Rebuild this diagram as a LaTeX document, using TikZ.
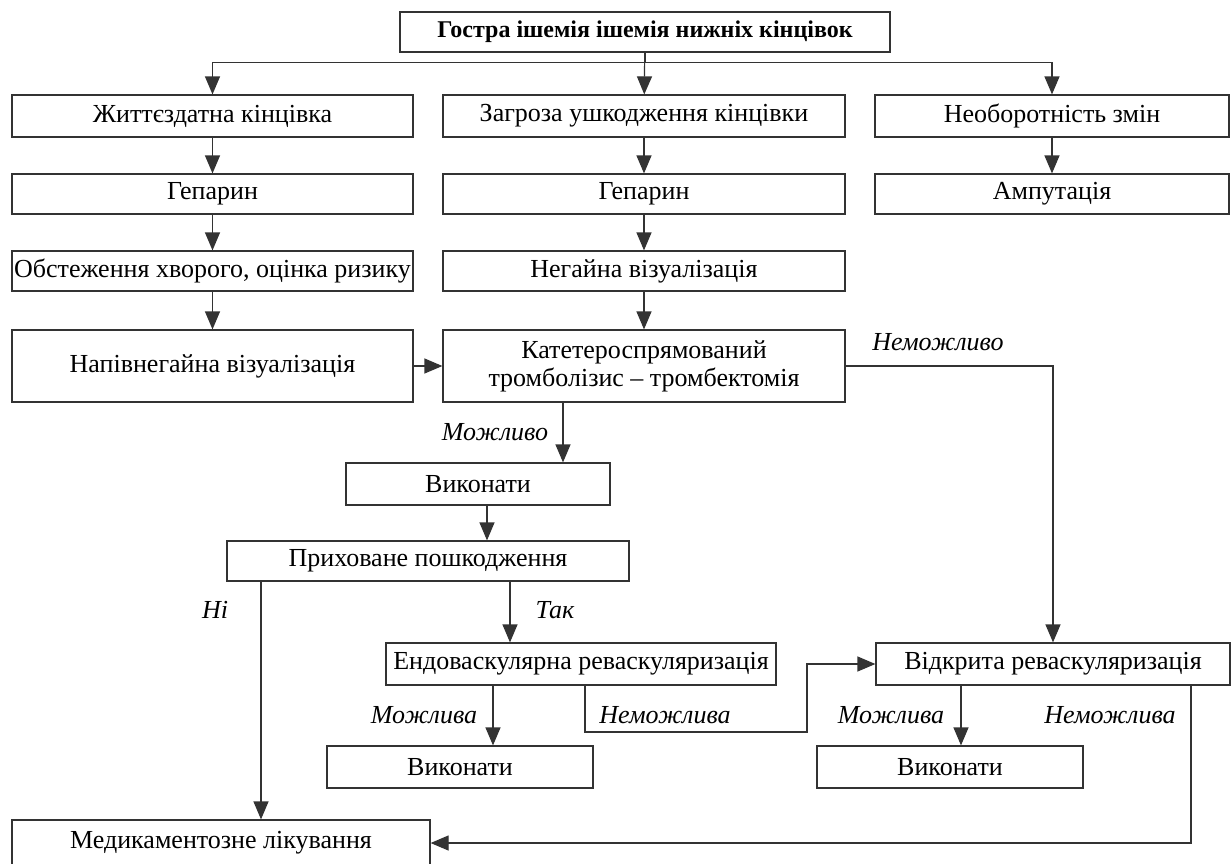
\documentclass[tikz,border=0pt]{standalone}
\usepackage{fontspec}
\setmainfont{Liberation Serif}
\usetikzlibrary{arrows.meta}
\tikzset{
  box/.style={draw=black!80,line width=1.2pt,minimum height=40pt,inner sep=0pt,align=center,font=\fontsize{26}{28}\selectfont},
  lnk/.style={draw=black!80,line width=1.2pt},
  arr/.style={lnk,-{Triangle[length=18pt,width=15pt]}},
  lbl/.style={font=\fontsize{26}{28}\selectfont\itshape}
}
\begin{document}
\begin{tikzpicture}[x=1pt,y=-1pt]
\useasboundingbox (0,0) rectangle (1232,863);
% boxes
\node[box,minimum width=490pt,font=\fontsize{24}{28}\selectfont\bfseries] (top) at (645,32) {Гостра ішемія ішемія нижніх кінцівок};
\node[box,minimum width=401pt,minimum height=42pt] (zhyt) at (212.5,116) {Життєздатна кінцівка};
\node[box,minimum width=402pt,minimum height=42pt] (zagr) at (644,116) {Загроза ушкодження кінцівки};
\node[box,minimum width=354pt,minimum height=42pt] (neob) at (1052,116) {Необоротність змін};
\node[box,minimum width=401pt] (hepA) at (212.5,194) {Гепарин};
\node[box,minimum width=402pt] (hepB) at (644,194) {Гепарин};
\node[box,minimum width=354pt] (amp) at (1052,194) {Ампутація};
\node[box,minimum width=401pt] (obst) at (212.5,271) {Обстеження хворого, оцінка ризику};
\node[box,minimum width=402pt] (neg) at (644,271) {Негайна візуалізація};
\node[box,minimum width=401pt,minimum height=72pt] (napiv) at (212.5,366) {Напівнегайна візуалізація};
\node[box,minimum width=402pt,minimum height=72pt] (kat) at (644,366) {Катетероспрямований\\тромболізис -- тромбектомія};
\node[box,minimum width=264pt,minimum height=42pt] (vykA) at (478,484) {Виконати};
\node[box,minimum width=402pt] (prykh) at (428,561) {Приховане пошкодження};
\node[box,minimum width=390pt,minimum height=42pt] (endo) at (581,664) {Ендоваскулярна реваскуляризація};
\node[box,minimum width=354pt,minimum height=42pt] (vidkr) at (1053,664) {Відкрита реваскуляризація};
\node[box,minimum width=266pt,minimum height=42pt] (vykB) at (460,767) {Виконати};
\node[box,minimum width=266pt,minimum height=42pt] (vykC) at (950,767) {Виконати};
\node[box,minimum width=418pt,minimum height=46pt] (med) at (221,843) {Медикаментозне лікування};
% connectors
\draw[arr] (top) -- (zagr);
\draw[arr] (top.south) -- ++(0,10) -| (zhyt.north);
\draw[arr] (top.south) -- ++(0,10) -| (neob.north);
\foreach \a/\b in {zhyt/hepA,hepA/obst,obst/napiv,zagr/hepB,hepB/neg,neg/kat,neob/amp}
  \draw[arr] (\a) -- (\b);
\draw[arr] (napiv) -- (kat);
\draw[arr] (kat.east) -| (vidkr.north);
\draw[arr] ([xshift=-81pt]kat.south) -- ([xshift=-81pt]kat.south |- vykA.north);
\draw[arr] ([xshift=9pt]vykA.south) -- ([xshift=9pt]vykA.south |- prykh.north);
\draw[arr] ([xshift=-167pt]prykh.south) -- ([xshift=-167pt]prykh.south |- med.north);
\draw[arr] ([xshift=82pt]prykh.south) -- ([xshift=82pt]prykh.south |- endo.north);
\draw[arr] ([xshift=-88pt]endo.south) -- ([xshift=-88pt]endo.south |- vykB.north);
\coordinate (ebend) at (807,732);
\draw[arr] ([xshift=4pt]endo.south) |- (ebend) |- (vidkr.west);
\draw[arr] ([xshift=-92pt]vidkr.south) -- ([xshift=-92pt]vidkr.south |- vykC.north);
\draw[arr] ([xshift=138pt]vidkr.south) |- (med.east);
% labels
\node[lbl] (l1) at (938,342) {Неможливо};
\node[lbl] (l2) at (495,432) {Можливо};
\node[lbl] (l3) at (215,610) {Ні};
\node[lbl] (l4) at (555,610) {Так};
\node[lbl] (l5) at (424,715) {Можлива};
\node[lbl] (l6) at (665,715) {Неможлива};
\node[lbl] (l7) at (891,715) {Можлива};
\node[lbl] (l8) at (1110,715) {Неможлива};
\end{tikzpicture}
\end{document}
